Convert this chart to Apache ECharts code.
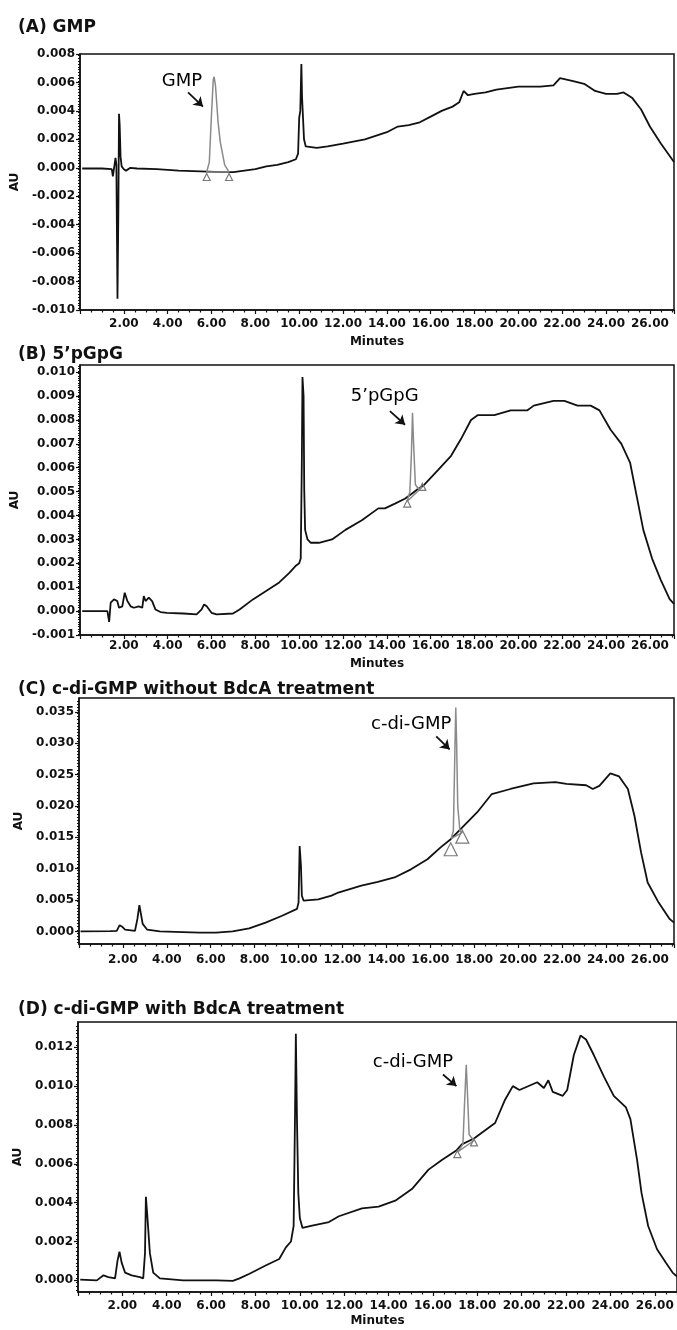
<!DOCTYPE html>
<html><head><meta charset="utf-8">
<script src="https://cdn.jsdelivr.net/npm/echarts@6/dist/echarts.min.js"></script>
<style>html,body{margin:0;padding:0;background:#fff}#c{width:677px;height:1330px}</style>
</head><body><div id="c"></div><script>
// ---------- DATA ----------
const titles = ['(A) GMP', '(B) 5\u2019pGpG', '(C) c-di-GMP without BdcA treatment', '(D) c-di-GMP with BdcA treatment'];
const peakNames = ['GMP', '5\u2019pGpG', 'c-di-GMP', 'c-di-GMP'];
const xTickLabels = [2, 4, 6, 8, 10, 12, 14, 16, 18, 20, 22, 24, 26];

const yTicksA = [-0.010, -0.008, -0.006, -0.004, -0.002, 0.000, 0.002, 0.004, 0.006, 0.008];
const yTicksB = [-0.001, 0.000, 0.001, 0.002, 0.003, 0.004, 0.005, 0.006, 0.007, 0.008, 0.009, 0.010];
const yTicksC = [0.000, 0.005, 0.010, 0.015, 0.020, 0.025, 0.030, 0.035];
const yTicksD = [0.000, 0.002, 0.004, 0.006, 0.008, 0.010, 0.012];

// Panel A: GMP
const traceA = [[0.1,-0.00005],[1.0,-0.00005],[1.45,-0.0001],[1.5,-0.0006],[1.56,-0.0007],[1.62,0.0007],[1.66,0.0002],[1.71,-0.0092],[1.75,-0.003],[1.78,0.0038],[1.81,0.0030],[1.85,0.0008],[1.9,0.0001],[2.0,-0.0001],[2.1,-0.0002],[2.3,0.0000],[2.6,-0.00005],[3.5,-0.0001],[4.5,-0.0002],[5.5,-0.00025],[6.5,-0.0003],[7.0,-0.0003],[7.5,-0.0002],[8.0,-0.0001],[8.5,0.0001],[9.0,0.0002],[9.5,0.0004],[9.85,0.0006],[9.95,0.0010],[10.0,0.0035],[10.05,0.0040],[10.1,0.0073],[10.13,0.0050],[10.17,0.0051],[10.22,0.0020],[10.3,0.0015],[10.8,0.0014],[11.3,0.0015],[12.0,0.0017],[13.0,0.0020],[14.0,0.0025],[14.5,0.0029],[15.0,0.0030],[15.5,0.0032],[16.0,0.0036],[16.5,0.0040],[17.0,0.0043],[17.3,0.0046],[17.5,0.0054],[17.7,0.0051],[18.0,0.0052],[18.5,0.0053],[19.0,0.0055],[20.0,0.0057],[21.0,0.0057],[21.6,0.0058],[21.9,0.0063],[22.5,0.0061],[23.0,0.0059],[23.5,0.0054],[24.0,0.0052],[24.5,0.0052],[24.8,0.0053],[25.2,0.0049],[25.6,0.0041],[26.0,0.0029],[26.5,0.0017],[27.1,0.0004]];
const peakA = [[5.78,-0.0003],[5.9,0.0004],[6.0,0.0038],[6.08,0.0062],[6.12,0.0064],[6.18,0.0058],[6.3,0.0032],[6.4,0.0018],[6.6,0.0002],[6.8,-0.0003],[5.78,-0.0003]];
const markersA = [[5.78,-0.00065],[6.8,-0.00065]];

// Panel B: 5'pGpG
const traceB = [[0.1,0],[1.25,0],[1.33,-0.00045],[1.40,0.00035],[1.55,0.00049],[1.70,0.00042],[1.78,0.00014],[1.93,0.0002],[2.04,0.00077],[2.16,0.00042],[2.31,0.0002],[2.46,0.00014],[2.68,0.0002],[2.84,0.00014],[2.91,0.00063],[2.99,0.00042],[3.14,0.00056],[3.29,0.00042],[3.44,0.00007],[3.67,-0.00004],[3.97,-0.00007],[4.72,-0.0001],[5.32,-0.00014],[5.55,0.00007],[5.66,0.00028],[5.78,0.0002],[6.0,-0.00007],[6.23,-0.00014],[6.98,-0.0001],[7.28,0.00007],[7.89,0.00049],[8.49,0.00084],[9.09,0.0012],[9.55,0.0016],[9.85,0.0019],[10.0,0.0020],[10.07,0.0022],[10.12,0.0062],[10.15,0.0098],[10.2,0.0090],[10.23,0.0051],[10.27,0.0034],[10.38,0.0030],[10.53,0.00286],[10.9,0.00286],[11.5,0.0030],[12.11,0.0034],[12.86,0.0038],[13.61,0.0043],[13.91,0.0043],[14.37,0.0045],[14.82,0.0047],[15.12,0.0049],[15.4,0.0051],[15.72,0.0053],[16.33,0.0059],[16.93,0.0065],[17.38,0.0072],[17.84,0.0080],[18.14,0.0082],[18.9,0.0082],[19.65,0.0084],[20.4,0.0084],[20.7,0.0086],[21.6,0.0088],[22.1,0.0088],[22.7,0.0086],[23.3,0.0086],[23.7,0.0084],[24.2,0.0076],[24.7,0.0070],[25.1,0.0062],[25.4,0.0048],[25.7,0.0034],[26.1,0.0022],[26.5,0.0013],[26.9,0.0005],[27.1,0.0003]];
const peakB = [[14.93,0.0046],[15.05,0.0050],[15.12,0.0066],[15.17,0.0083],[15.22,0.0070],[15.3,0.0053],[15.45,0.0051],[15.62,0.0052],[14.93,0.0046]];
const markersB = [[14.93,0.0045],[15.62,0.0052]];

// Panel C: c-di-GMP without BdcA
const traceC = [[0.07,0],[1.42,0.00005],[1.72,0.0001],[1.85,0.0010],[1.95,0.0008],[2.1,0.0003],[2.55,0.0001],[2.66,0.0020],[2.75,0.0042],[2.81,0.0030],[2.9,0.0012],[3.1,0.0003],[3.68,0],[4.74,-0.0001],[5.5,-0.0002],[6.24,-0.0002],[7.0,0],[7.75,0.0005],[8.5,0.0014],[9.25,0.0025],[9.93,0.0036],[10.0,0.0046],[10.05,0.0136],[10.11,0.0104],[10.15,0.0057],[10.23,0.0049],[10.9,0.0051],[11.5,0.0057],[11.81,0.0062],[12.86,0.0073],[13.61,0.0079],[14.37,0.0086],[15.12,0.0099],[15.87,0.0115],[16.47,0.0134],[16.93,0.0147],[17.38,0.0163],[18.14,0.0190],[18.8,0.0219],[19.65,0.0227],[20.7,0.0236],[21.7,0.0238],[22.2,0.0235],[23.1,0.0233],[23.4,0.0227],[23.7,0.0232],[24.2,0.0252],[24.6,0.0247],[25.0,0.0227],[25.3,0.0184],[25.6,0.0126],[25.9,0.0078],[26.4,0.0046],[26.9,0.0020],[27.1,0.0014]];
const peakC = [[16.95,0.0148],[17.05,0.0160],[17.1,0.0250],[17.16,0.0357],[17.2,0.0300],[17.25,0.0200],[17.35,0.0160],[17.46,0.0158],[16.95,0.0148]];
const markersC = [[16.93,0.0131],[17.46,0.0151]];

// Panel D: c-di-GMP with BdcA
const traceD = [[0.1,0.00004],[0.85,0],[1.15,0.00026],[1.37,0.00017],[1.67,0.0001],[1.78,0.0010],[1.87,0.00147],[1.97,0.0009],[2.12,0.0004],[2.42,0.00026],[2.79,0.00017],[2.94,0.0001],[3.02,0.0014],[3.06,0.0043],[3.12,0.0034],[3.24,0.0014],[3.39,0.0004],[3.69,0.0001],[4.74,0],[6.24,0],[6.98,-0.00003],[7.28,0.0001],[7.73,0.00034],[8.48,0.00078],[9.07,0.0011],[9.37,0.0017],[9.6,0.0020],[9.72,0.0028],[9.78,0.0083],[9.82,0.0127],[9.87,0.0083],[9.93,0.0045],[10.0,0.0032],[10.12,0.0027],[10.5,0.0028],[11.31,0.0030],[11.76,0.0033],[12.8,0.0037],[13.55,0.0038],[14.3,0.0041],[15.05,0.0047],[15.8,0.0057],[16.4,0.0062],[17.07,0.0067],[17.3,0.0070],[17.85,0.0073],[18.2,0.0076],[18.8,0.0081],[19.25,0.0093],[19.6,0.0100],[19.9,0.0098],[20.7,0.0102],[21.0,0.0099],[21.2,0.0103],[21.4,0.0097],[21.85,0.0095],[22.05,0.0098],[22.35,0.0116],[22.65,0.0126],[22.9,0.0124],[23.25,0.0116],[23.7,0.0105],[24.15,0.0095],[24.7,0.0089],[24.9,0.0083],[25.2,0.0062],[25.4,0.0045],[25.7,0.0028],[26.1,0.0016],[26.5,0.0009],[26.8,0.0004],[27.0,0.0002]];
const peakD = [[17.1,0.0066],[17.35,0.0070],[17.42,0.0090],[17.5,0.0111],[17.56,0.0095],[17.63,0.0075],[17.85,0.0072],[17.1,0.0066]];
const markersD = [[17.1,0.0065],[17.85,0.0071]];

// annotation anchors (data units): label position, arrow start, arrow end
const annotA = [[4.65,0.0061],[4.93,0.0053],[5.61,0.0043]];
const annotB = [[13.9,0.0090],[14.14,0.00837],[14.83,0.0078]];
const annotC = [[15.13,0.0330],[16.27,0.0311],[16.88,0.0290]];
const annotD = [[15.1,0.0112],[16.45,0.0106],[17.06,0.0100]];

// ---------- LAYOUT / STYLE ----------
const F = 'DejaVu Sans';
const INK = '#111';
const GRAY = '#8a8a8a';
const panels = [
  {trace:traceA, peak:peakA, markers:markersA, annot:annotA, yTicks:yTicksA, grid:{left:80,right:3,top:54,height:256}, xmax:27.1, ymin:-0.010, ymax:0.008, fine:0.0002, titleTop:14, xMargin:8, xNameGap:26, yNameGap:53, minutes:true, msize:7},
  {trace:traceB, peak:peakB, markers:markersB, annot:annotB, yTicks:yTicksB, grid:{left:80,right:3,top:365,height:270}, xmax:27.1, ymin:-0.001, ymax:0.0103, fine:0.0001, titleTop:341, xMargin:5, xNameGap:23, yNameGap:47, minutes:true, msize:7},
  {trace:traceC, peak:peakC, markers:markersC, annot:annotC, yTicks:yTicksC, grid:{left:79,right:3,top:698,height:246}, xmax:27.1, ymin:-0.002, ymax:0.0372, fine:0.0005, titleTop:676, xMargin:10, xNameGap:23, yNameGap:50, minutes:false, msize:13},
  {trace:traceD, peak:peakD, markers:markersD, annot:annotD, yTicks:yTicksD, grid:{left:78,right:0,top:1022,height:270}, xmax:27.0, ymin:-0.0006, ymax:0.0133, fine:0.0002, titleTop:996, xMargin:8, xNameGap:23, yNameGap:46, minutes:true, msize:7}
];

const tickLabelStyle = {fontFamily:F, fontWeight:'bold', fontSize:12, color:INK};
const option = {animation:false, backgroundColor:'#fff', title:[], grid:[], xAxis:[], yAxis:[], series:[]};

panels.forEach((p, i) => {
  option.title.push({text:titles[i], left:13, top:p.titleTop, textStyle:{fontFamily:F, fontWeight:'bold', fontSize:17, color:INK}});
  option.grid.push(Object.assign({show:true, borderColor:INK, borderWidth:1.5, backgroundColor:'transparent'}, p.grid));
  option.xAxis.push({
    gridIndex:i, type:'value', min:0, max:p.xmax, interval:2,
    name:p.minutes ? 'Minutes' : '', nameLocation:'middle', nameGap:p.xNameGap,
    nameTextStyle:{fontFamily:F, fontWeight:'bold', fontSize:12, color:INK},
    axisLine:{onZero:false, lineStyle:{color:INK, width:1.5}},
    axisTick:{length:4, lineStyle:{color:INK, width:1.2}},
    minorTick:{show:true, splitNumber:4, length:2.5, lineStyle:{color:INK, width:1.2}},
    axisLabel:Object.assign({customValues:xTickLabels, margin:p.xMargin, formatter:v => v.toFixed(2)}, tickLabelStyle),
    splitLine:{show:false}
  });
  option.yAxis.push({
    gridIndex:i, type:'value', position:'left', min:p.ymin, max:p.ymax, interval:p.fine,
    name:'AU', nameLocation:'middle', nameGap:p.yNameGap,
    nameTextStyle:{fontFamily:F, fontWeight:'bold', fontSize:12, color:INK},
    axisLine:{lineStyle:{color:INK, width:1.5}},
    axisTick:{customValues:p.yTicks, length:4, lineStyle:{color:INK, width:1.2}},
    minorTick:{show:true, splitNumber:2, length:2, lineStyle:{color:INK, width:1}},
    axisLabel:Object.assign({customValues:p.yTicks, margin:5, formatter:v => v.toFixed(3)}, tickLabelStyle),
    splitLine:{show:false}
  });
  option.series.push({
    type:'line', xAxisIndex:i, yAxisIndex:i, data:p.trace, showSymbol:false, symbol:'none',
    lineStyle:{color:INK, width:1.8}, z:3, silent:true
  });
  option.series.push({
    type:'line', xAxisIndex:i, yAxisIndex:i, data:p.peak, showSymbol:false, symbol:'none',
    lineStyle:{color:GRAY, width:1.5}, z:4, silent:true
  });
  // arrow pointing to the labelled peak
  option.series.push({
    type:'lines', coordinateSystem:'cartesian2d', xAxisIndex:i, yAxisIndex:i, silent:true, z:6,
    symbol:['none','arrow'], symbolSize:9,
    lineStyle:{color:INK, width:1.8, opacity:1},
    data:[{coords:[p.annot[1], p.annot[2]]}]
  });
  option.series.push({
    type:'scatter', xAxisIndex:i, yAxisIndex:i, data:p.markers, symbol:'triangle', symbolSize:p.msize,
    itemStyle:{color:'rgba(255,255,255,0)', borderColor:'#7a7a7a', borderWidth:1.2, opacity:1}, z:5, silent:true
  });
  option.series.push({
    type:'scatter', xAxisIndex:i, yAxisIndex:i, data:[p.annot[0]], symbolSize:0, z:6, silent:true,
    itemStyle:{opacity:1},
    label:{show:true, position:'inside', formatter:peakNames[i], fontFamily:F, fontSize:18, color:'#000', opacity:1}
  });
});

const chart = echarts.init(document.getElementById('c'), null, {renderer:'canvas'});
chart.setOption(option);
</script></body></html>
